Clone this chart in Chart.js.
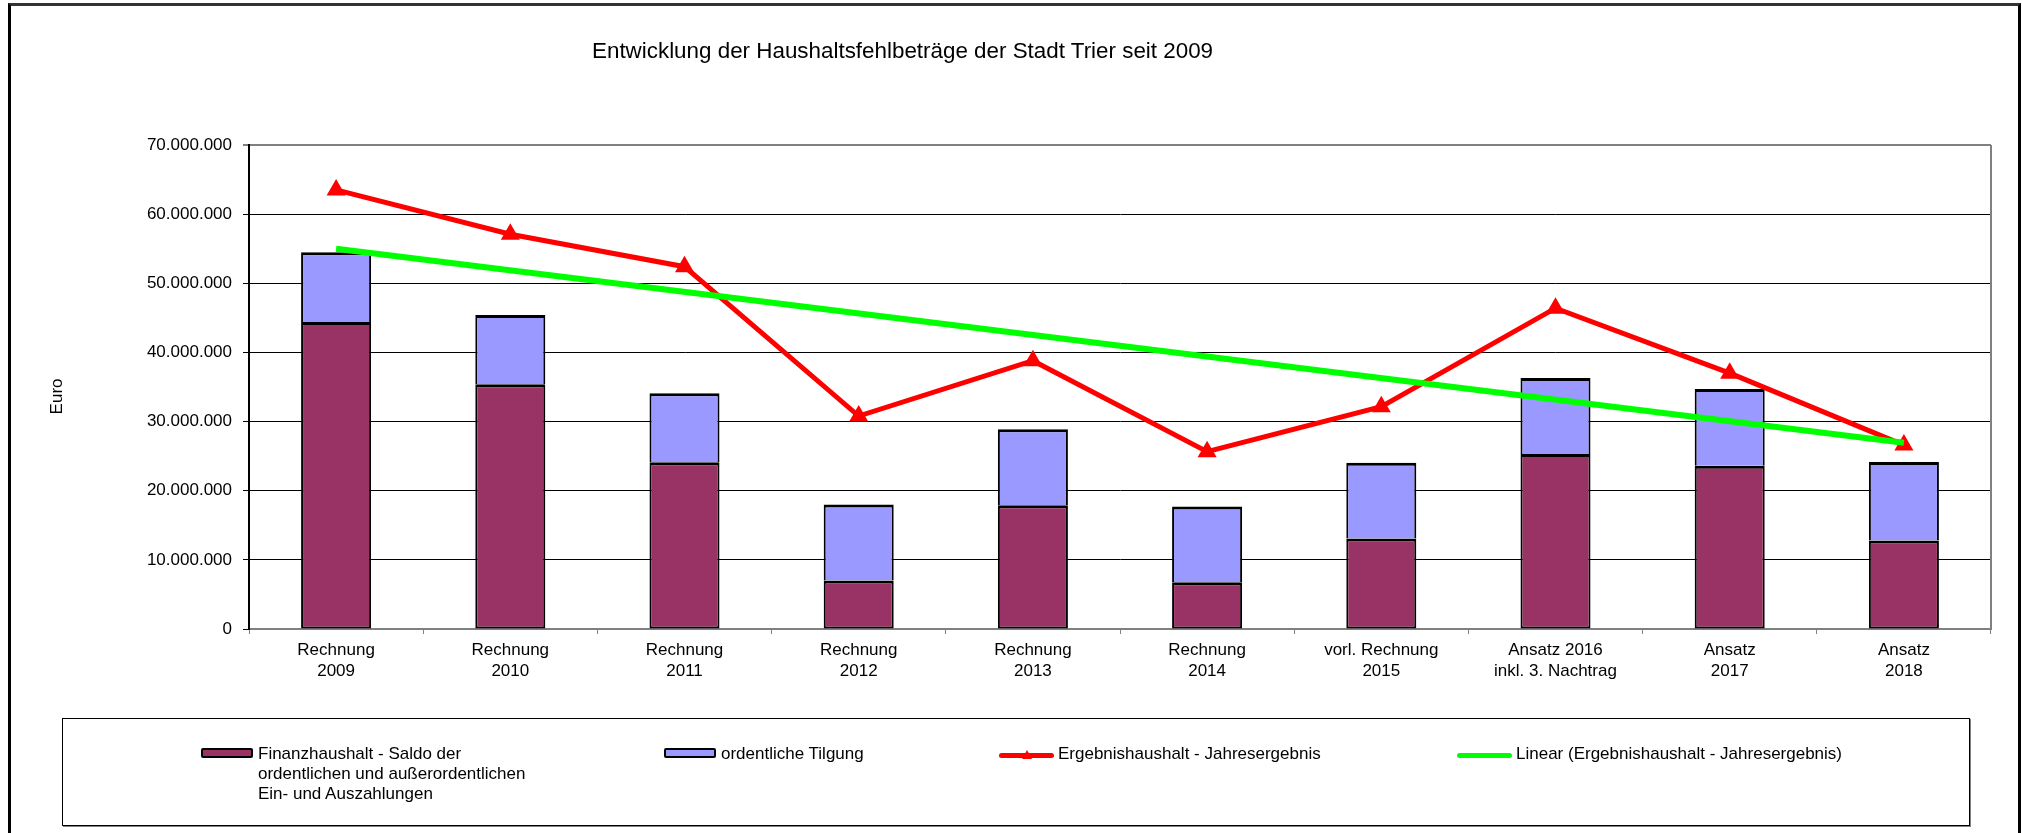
<!DOCTYPE html>
<html lang="de">
<head>
<meta charset="utf-8">
<title>Haushaltsfehlbeträge Trier</title>
<script src="https://cdn.jsdelivr.net/npm/chart.js@4/dist/chart.umd.min.js"></script>
<style>
    html, body { margin: 0; padding: 0; background: #fff; overflow: hidden; }
    body { width: 2022px; height: 833px; position: relative; font-family: "Liberation Sans", Arial, sans-serif; color: #000; }
    #chart { position: absolute; left: 0; top: 0; }
    #rahmen { position: absolute; left: 8px; top: 3px; width: 2013px; height: 900px; box-sizing: border-box;
              border: 3px solid #000; border-top-color: #333; }
    #titel { position: absolute; left: 592px; top: 37px; font-size: 22.4px; line-height: 28px; white-space: nowrap; }
    #legende { position: absolute; left: 62px; top: 718px; width: 1908px; height: 108px; box-sizing: border-box;
               border: 1px solid #000; box-shadow: 1px 1px 0 #808080; background: #fff; }
    .eintrag { position: absolute; font-size: 17px; line-height: 20px; white-space: nowrap; }
    .kasten { position: absolute; width: 52px; height: 10px; box-sizing: border-box; border: 2px solid #000; border-radius: 2px; }
    .linie { position: absolute; width: 55px; height: 5px; border-radius: 3px; }
</style>
</head>
<body>
<canvas id="chart" width="2022" height="833"></canvas>
<div id="rahmen"></div>
<div id="titel">Entwicklung der Haushaltsfehlbeträge der Stadt Trier seit 2009</div>
<div id="legende"></div>

<script>
// Kategorien (x-Achse)
const kategorien = [
    ['Rechnung', '2009'],
    ['Rechnung', '2010'],
    ['Rechnung', '2011'],
    ['Rechnung', '2012'],
    ['Rechnung', '2013'],
    ['Rechnung', '2014'],
    ['vorl. Rechnung', '2015'],
    ['Ansatz 2016', 'inkl. 3. Nachtrag'],
    ['Ansatz', '2017'],
    ['Ansatz', '2018']
];

// Finanzhaushalt - Saldo der ordentlichen und außerordentlichen Ein- und Auszahlungen
const finanzSaldo = [44400000, 35400000, 24100000, 7000000, 17900000, 6750000, 13100000, 25300000, 23600000, 12800000];

// ordentliche Tilgung (oben gestapelt)
const tilgung = [10100000, 10000000, 10000000, 11000000, 11000000, 10950000, 10950000, 11000000, 11100000, 11350000];

// Ergebnishaushalt - Jahresergebnis
const ergebnis = [63500000, 57100000, 52400000, 30800000, 38800000, 25650000, 32150000, 46400000, 37000000, 26600000];

// Trendlinie, Endpunkte
const trend = [55000000, null, null, null, null, null, null, null, null, 26950000];

// y-Achse
const yMin = 0;
const yMax = 70000000;
const yStep = 10000000;

const schrift = '"Liberation Sans", Arial, sans-serif';

const formatEuro = (v) => String(Math.round(v)).replace(/\B(?=(\d{3})+(?!\d))/g, '.');

// rechter Rand der Zeichenfläche
const rahmenPlugin = {
    id: 'rahmenPlugin',
    beforeDatasetsDraw(chart) {
        const { ctx, chartArea } = chart;
        ctx.save();
        ctx.strokeStyle = '#808080';
        ctx.lineWidth = 2;
        ctx.beginPath();
        ctx.moveTo(chartArea.right, chartArea.top);
        ctx.lineTo(chartArea.right, chartArea.bottom);
        ctx.stroke();
        ctx.restore();
    }
};

const ctx = document.getElementById('chart').getContext('2d');
new Chart(ctx, {
    data: {
        labels: kategorien,
        datasets: [
            {
                type: 'line',
                label: 'Linear (Ergebnishaushalt - Jahresergebnis)',
                data: trend,
                stack: 'trend',
                order: 0,
                borderColor: '#00FF00',
                borderWidth: 6,
                pointRadius: 0,
                spanGaps: true,
                tension: 0
            },
            {
                type: 'line',
                label: 'Ergebnishaushalt - Jahresergebnis',
                data: ergebnis,
                stack: 'ergebnis',
                order: 1,
                borderColor: '#FF0000',
                borderWidth: 5,
                pointStyle: 'triangle',
                pointRadius: 11,
                pointBackgroundColor: '#FF0000',
                pointBorderColor: '#FF0000',
                pointBorderWidth: 0,
                tension: 0
            },
            {
                type: 'bar',
                label: 'Finanzhaushalt - Saldo der ordentlichen und außerordentlichen Ein- und Auszahlungen',
                data: finanzSaldo,
                stack: 'balken',
                order: 2,
                backgroundColor: '#993366',
                borderColor: '#000',
                borderWidth: { top: 3, left: 2, right: 2, bottom: 2 },
                borderSkipped: false,
                barPercentage: 0.402,
                categoryPercentage: 1
            },
            {
                type: 'bar',
                label: 'ordentliche Tilgung',
                data: tilgung,
                stack: 'balken',
                order: 2,
                backgroundColor: '#9999FF',
                borderColor: '#000',
                borderWidth: { top: 3, left: 2, right: 2, bottom: 0 },
                borderSkipped: 'start',
                barPercentage: 0.402,
                categoryPercentage: 1
            }
        ]
    },
    options: {
        responsive: false,
        animation: false,
        devicePixelRatio: 1,
        layout: {
            padding: { left: 20, right: 31, top: 145, bottom: 134 }
        },
        plugins: {
            legend: { display: false },
            title: { display: false },
            tooltip: { enabled: false }
        },
        scales: {
            x: {
                stacked: true,
                offset: true,
                border: { display: true, color: '#808080', width: 2 },
                grid: {
                    display: true,
                    offset: true,
                    drawOnChartArea: false,
                    drawTicks: true,
                    tickLength: 5,
                    color: '#808080',
                    tickColor: '#808080'
                },
                ticks: {
                    color: '#000',
                    padding: 6,
                    maxRotation: 0,
                    autoSkip: false,
                    font: { family: schrift, size: 17, lineHeight: 1.24 }
                },
                afterFit(scale) { scale.height = 70; }
            },
            y: {
                stacked: true,
                min: yMin,
                max: yMax,
                border: { display: true, color: '#000', width: 2 },
                grid: {
                    color: (c) => (c.tick && c.tick.value === yMax ? '#808080' : '#000'),
                    lineWidth: (c) => (c.tick && c.tick.value === yMax ? 2 : 1),
                    tickLength: 6,
                    tickColor: '#000',
                    tickWidth: 1
                },
                ticks: {
                    stepSize: yStep,
                    color: '#000',
                    padding: 11,
                    font: { family: schrift, size: 17 },
                    callback: (v) => formatEuro(v)
                },
                title: {
                    display: true,
                    // Leerzeichen am Ende schieben den Text etwas nach unten, wie im Original
                    text: 'Euro    ',
                    color: '#000',
                    padding: { top: 27, bottom: 0 },
                    font: { family: schrift, size: 17 }
                },
                afterFit(scale) { scale.width = 229; }
            }
        }
    },
    plugins: [rahmenPlugin]
});

// Legende als HTML, Aufbau wie im Original (vier Spalten)
const legendeEintraege = [
    { art: 'kasten', farbe: '#993366', x: 138, text: 'Finanzhaushalt - Saldo der<br>ordentlichen und außerordentlichen<br>Ein- und Auszahlungen' },
    { art: 'kasten', farbe: '#9999FF', x: 601, text: 'ordentliche Tilgung' },
    { art: 'linie', farbe: '#FF0000', x: 936, text: 'Ergebnishaushalt - Jahresergebnis', marker: true },
    { art: 'linie', farbe: '#00FF00', x: 1394, text: 'Linear (Ergebnishaushalt - Jahresergebnis)' }
];

const legende = document.getElementById('legende');
legendeEintraege.forEach(e => {
    const sym = document.createElement('div');
    sym.className = e.art;
    sym.style.left = e.x + 'px';
    sym.style.top = e.art === 'kasten' ? '29px' : '34px';
    sym.style.background = e.farbe;
    if (e.marker) {
        const tri = document.createElement('div');
        tri.style.cssText = 'position:absolute;left:23px;top:-3px;width:0;height:0;' +
            'border-left:5px solid transparent;border-right:5px solid transparent;border-bottom:9px solid ' + e.farbe + ';';
        sym.appendChild(tri);
    }
    legende.appendChild(sym);

    const txt = document.createElement('div');
    txt.className = 'eintrag';
    txt.style.left = (e.x + (e.art === 'kasten' ? 57 : 59)) + 'px';
    txt.style.top = '25px';
    txt.innerHTML = e.text;
    legende.appendChild(txt);
});
</script>
</body>
</html>
